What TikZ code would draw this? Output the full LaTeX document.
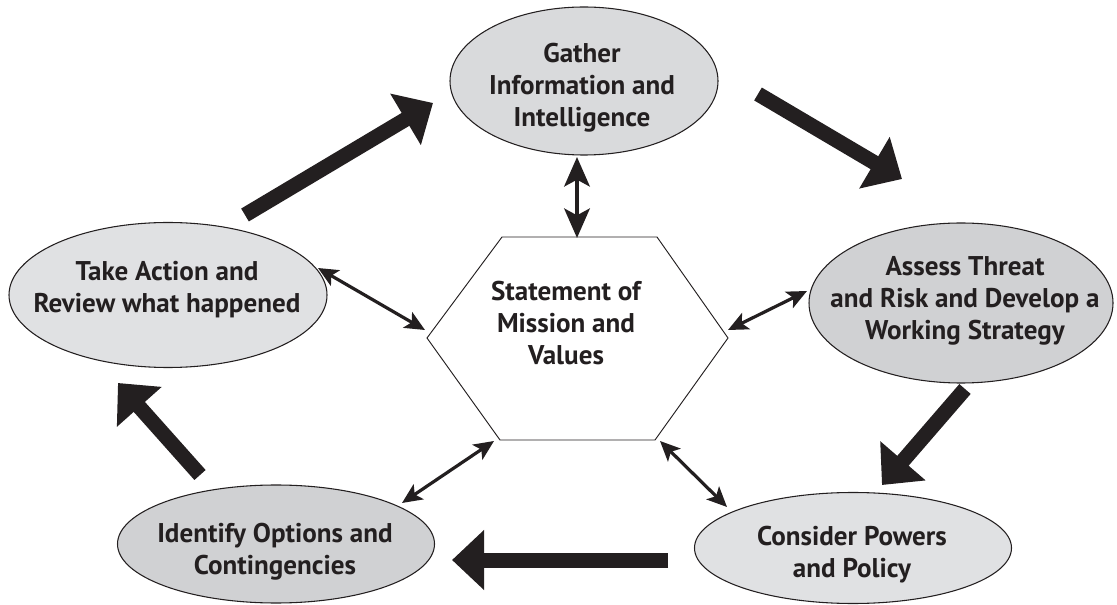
\documentclass[tikz,border=0pt]{standalone}
\usepackage{fontspec}
\setmainfont{PT Sans}
\usetikzlibrary{arrows.meta,shapes.geometric}
\definecolor{ink}{HTML}{231F20}
\definecolor{fillA}{HTML}{E0E1E3}
\definecolor{fillB}{HTML}{D9DADC}
\definecolor{fillC}{HTML}{D0D1D3}
\tikzset{
  ell/.style={ellipse, draw=ink, line width=0.8pt, inner sep=0pt},
  txt/.style={align=center, text=ink, font=\bfseries\fontsize{20.3pt}{24pt}\selectfont},
  bigarrow/.style={draw=ink, line width=11.25pt, -{Triangle[length=24pt, width=43.5pt]}},
  dblarrow/.style={draw=ink, line width=2.4pt, {Stealth[length=15pt, width=13.5pt, inset=3.5pt]}-{Stealth[length=15pt, width=13.5pt, inset=3.5pt]}},
  vdblarrow/.style={draw=ink, line width=3.6pt, {Stealth[length=22pt, width=19pt, inset=5pt]}-{Stealth[length=22pt, width=19pt, inset=5pt]}},
  hexline/.style={draw=ink, line width=0.7pt, fill=white}
}
\begin{document}
\begin{tikzpicture}[x=0.75pt, y=-0.75pt]
\useasboundingbox (0,0) rectangle (1117,605);
% ellipses
\node[ell, fill=fillB, minimum width=201pt, minimum height=111pt] (gather) at (584,81) {};
\node[ell, fill=fillA, minimum width=238.5pt, minimum height=108.75pt] (action) at (168,295) {};
\node[ell, fill=fillC, minimum width=228pt, minimum height=120pt] (assess) at (961,303) {};
\node[ell, fill=fillC, minimum width=237.75pt, minimum height=88.5pt] (identify) at (276,544) {};
\node[ell, fill=fillA, minimum width=237.75pt, minimum height=83.25pt] (consider) at (853,548) {};
% texts
\node[txt] (tgather) at (582,88) {Gather\\Information and\\Intelligence};
\node[txt] (taction) at (167,290) {Take Action and\\Review what happened};
\node[txt] (tassess) at (965,301) {Assess Threat\\and Risk and Develop a\\Working Strategy};
\node[txt] (tidentify) at (275,552) {Identify Options and\\Contingencies};
\node[txt] (tconsider) at (852,555) {Consider Powers\\and Policy};
% hexagon
\coordinate (h1) at (502,237);
\coordinate (h2) at (657,237);
\coordinate (h3) at (728,338);
\coordinate (h4) at (655,440);
\coordinate (h5) at (500,440);
\coordinate (h6) at (427,338);
\draw[hexline] (h1) -- (h2) -- (h3) -- (h4) -- (h5) -- (h6) -- cycle;
\node[txt] (mission) at (566,323) {Statement of\\Mission and\\Values};
% thick cycle arrows
\coordinate (a1s) at (245,215); \coordinate (a1e) at (433,103);
\coordinate (a2s) at (758,94);  \coordinate (a2e) at (902,179);
\coordinate (a3s) at (965,389); \coordinate (a3e) at (882,485);
\coordinate (a4s) at (668,560); \coordinate (a4e) at (452,560);
\coordinate (a5s) at (200,475); \coordinate (a5e) at (118,383);
\draw[bigarrow] (a1s) -- (a1e);
\draw[bigarrow] (a2s) -- (a2e);
\draw[bigarrow] (a3s) -- (a3e);
\draw[bigarrow] (a4s) -- (a4e);
\draw[bigarrow] (a5s) -- (a5e);
% double arrows to the centre
\coordinate (d1a) at (577,157); \coordinate (d1b) at (577,238);
\coordinate (d2a) at (318,268); \coordinate (d2b) at (425,330);
\coordinate (d3a) at (728,330); \coordinate (d3b) at (807,291);
\coordinate (d4a) at (402,503); \coordinate (d4b) at (494,441);
\coordinate (d5a) at (660,441); \coordinate (d5b) at (727,507);
\draw[vdblarrow] (d1a) -- (d1b);
\draw[dblarrow] (d2a) -- (d2b);
\draw[dblarrow] (d3a) -- (d3b);
\draw[dblarrow] (d4a) -- (d4b);
\draw[dblarrow] (d5a) -- (d5b);
\end{tikzpicture}
\end{document}
